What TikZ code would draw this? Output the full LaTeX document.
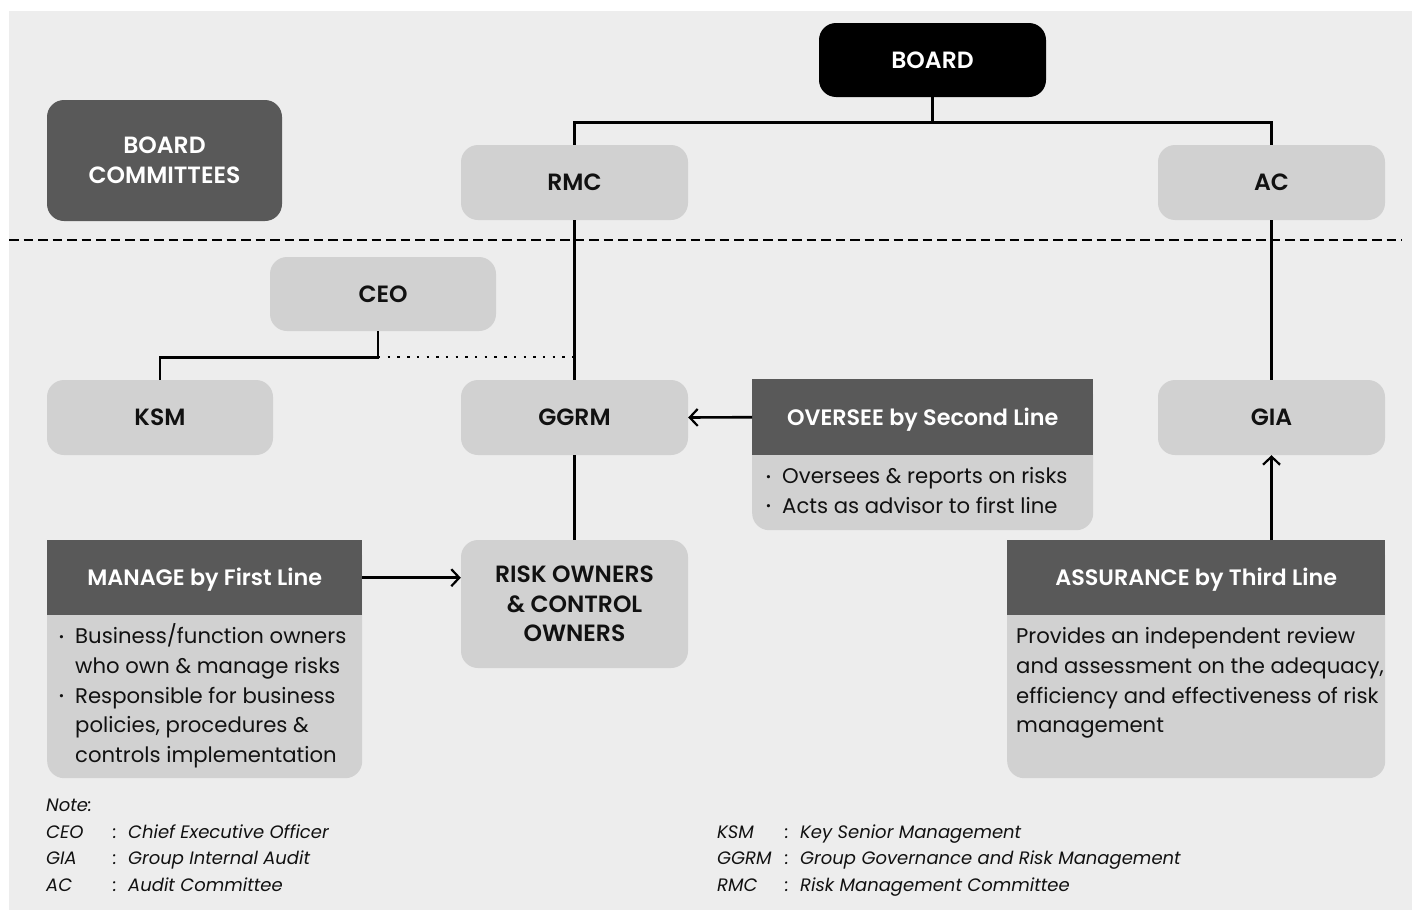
\documentclass[tikz,border=0pt]{standalone}
\usepackage{fontspec}
\setmainfont{Poppins}[BoldFont={Poppins SemiBold}]
\usetikzlibrary{arrows.meta}

\definecolor{panel}{HTML}{EDEDED}
\definecolor{boxgrey}{HTML}{D1D1D1}
\definecolor{darkgrey}{HTML}{595959}
\definecolor{ink}{HTML}{111111}

% small raised bullet hung to the left of a list line
\newcommand\itembullet{\llap{\raisebox{2.5pt}{\fontsize{13}{13}\selectfont\textbullet}\hspace{11pt}}}

\begin{document}
\begin{tikzpicture}[x=1pt,y=-1pt,
  conn/.style={line width=2.6pt, draw=black},
  arr/.style={conn, -{Straight Barb[length=8pt,width=17pt,line width=2.2pt]}},
  unitbox/.style={rounded corners=17pt, fill=boxgrey, minimum width=227pt,
    minimum height=75pt, inner sep=0pt, align=center, text=ink,
    font=\fontsize{23.5}{29.5}\selectfont\bfseries},
  headbox/.style={fill=darkgrey, text=white, inner sep=0pt, anchor=north west,
    font=\fontsize{22.3}{24}\selectfont\bfseries},
  bodybox/.style={fill=boxgrey, rounded corners=17pt, inner sep=0pt, anchor=north west},
  bodytext/.style={anchor=base west, inner sep=0pt, text=ink,
    font=\fontsize{21.2}{29.75}\selectfont},
  notetext/.style={anchor=base west, inner sep=0pt, text=ink,
    font=\fontsize{18}{26.6}\selectfont\itshape}]

\useasboundingbox (0,0) rectangle (1412,910);
\fill[white] (0,0) rectangle (1412,910);
\fill[panel] (9,11) rectangle (1412,910);

% board level / management level separator
\draw[line width=2.7pt, dash pattern=on 9.5pt off 5pt] (9,240) -- (1402,240);

% units
\node[unitbox, fill=black, text=white, minimum height=74pt] (board) at (932.5,60) {BOARD};
\node[unitbox, fill=darkgrey, text=white, minimum width=235pt, minimum height=121pt]
  (committees) at (164.5,160.5) {BOARD\\COMMITTEES};
\node[unitbox] (rmc) at (574.5,182.5) {RMC};
\node[unitbox] (ac) at (1271.5,182.5) {AC};
\node[unitbox, minimum width=226pt, minimum height=74pt] (ceo) at (383,294) {CEO};
\node[unitbox, minimum width=226pt] (ksm) at (160,417.5) {KSM};
\node[unitbox] (ggrm) at (574.5,417.5) {GGRM};
\node[unitbox] (gia) at (1271.5,417.5) {GIA};
\node[unitbox, minimum height=128pt] (risk) at (574.5,604) {RISK OWNERS\\\& CONTROL\\OWNERS};

% second line
\node[bodybox, minimum width=341pt, minimum height=151pt] (oversee) at (752,379) {};
\node[headbox, minimum width=341pt, minimum height=76pt, text depth=1pt] (oversee-head) at (752,379) {OVERSEE by Second Line};
\node[bodytext] (oversee-text) at (782,483.5) {\begin{tabular}[t]{@{}l@{}}
  \itembullet Oversees \& reports on risks\\
  \itembullet Acts as advisor to first line\end{tabular}};

% first line
\node[bodybox, minimum width=315pt, minimum height=238pt] (manage) at (47,540) {};
\node[headbox, minimum width=315pt, minimum height=75pt, text depth=1pt] (manage-head) at (47,540) {MANAGE by First Line};
\node[bodytext] (manage-text) at (75,643.5) {\begin{tabular}[t]{@{}l@{}}
  \itembullet Business/function owners\\
  who own \& manage risks\\
  \itembullet Responsible for business\\
  policies, procedures \&\\
  controls implementation\end{tabular}};

% third line
\node[bodybox, minimum width=378pt, minimum height=238pt] (assure) at (1007,540) {};
\node[headbox, minimum width=378pt, minimum height=75pt, text depth=1pt] (assure-head) at (1007,540) {ASSURANCE by Third Line};
\node[bodytext] (assure-text) at (1016,643.5) {\begin{tabular}[t]{@{}l@{}}
  Provides an independent review\\
  and assessment on the adequacy,\\
  efficiency and effectiveness of risk\\
  management\end{tabular}};

% reporting lines
\draw[conn] (board.south) -- ++(0,25) coordinate (board-knee) -| (rmc.north);
\draw[conn] (board-knee) -| (ac.north);
\draw[conn] (rmc.south) -- (ggrm.north);
\draw[conn] (ac.south) -- (gia.north);
\draw[conn] ([xshift=-5pt]ceo.south) -- ++(0,26) coordinate (ceo-knee) -| (ksm.north);
\draw[conn, line width=2.4pt, dash pattern=on 2.4pt off 7.3pt] (ceo-knee) -- (ceo-knee -| ggrm.north);
\draw[conn] (ggrm.south) -- (risk.north);
\draw[arr] (oversee-head.west) -- (ggrm.east);
\draw[arr] (manage-head.east) -- (manage-head.east -| risk.west);
\draw[arr] (assure-head.north -| gia.south) -- (gia.south);

% abbreviations
\node[notetext] (note-left) at (46,811.5) {\begin{tabular}[t]{@{}p{67pt}@{}p{15pt}@{}l@{}}
  \multicolumn{3}{@{}l@{}}{Note:}\\
  CEO & : & Chief Executive Officer\\
  GIA & : & Group Internal Audit\\
  AC & : & Audit Committee\end{tabular}};
\node[notetext] (note-right) at (717,838) {\begin{tabular}[t]{@{}p{68pt}@{}p{15pt}@{}l@{}}
  KSM & : & Key Senior Management\\
  GGRM & : & Group Governance and Risk Management\\
  RMC & : & Risk Management Committee\end{tabular}};
\end{tikzpicture}
\end{document}
